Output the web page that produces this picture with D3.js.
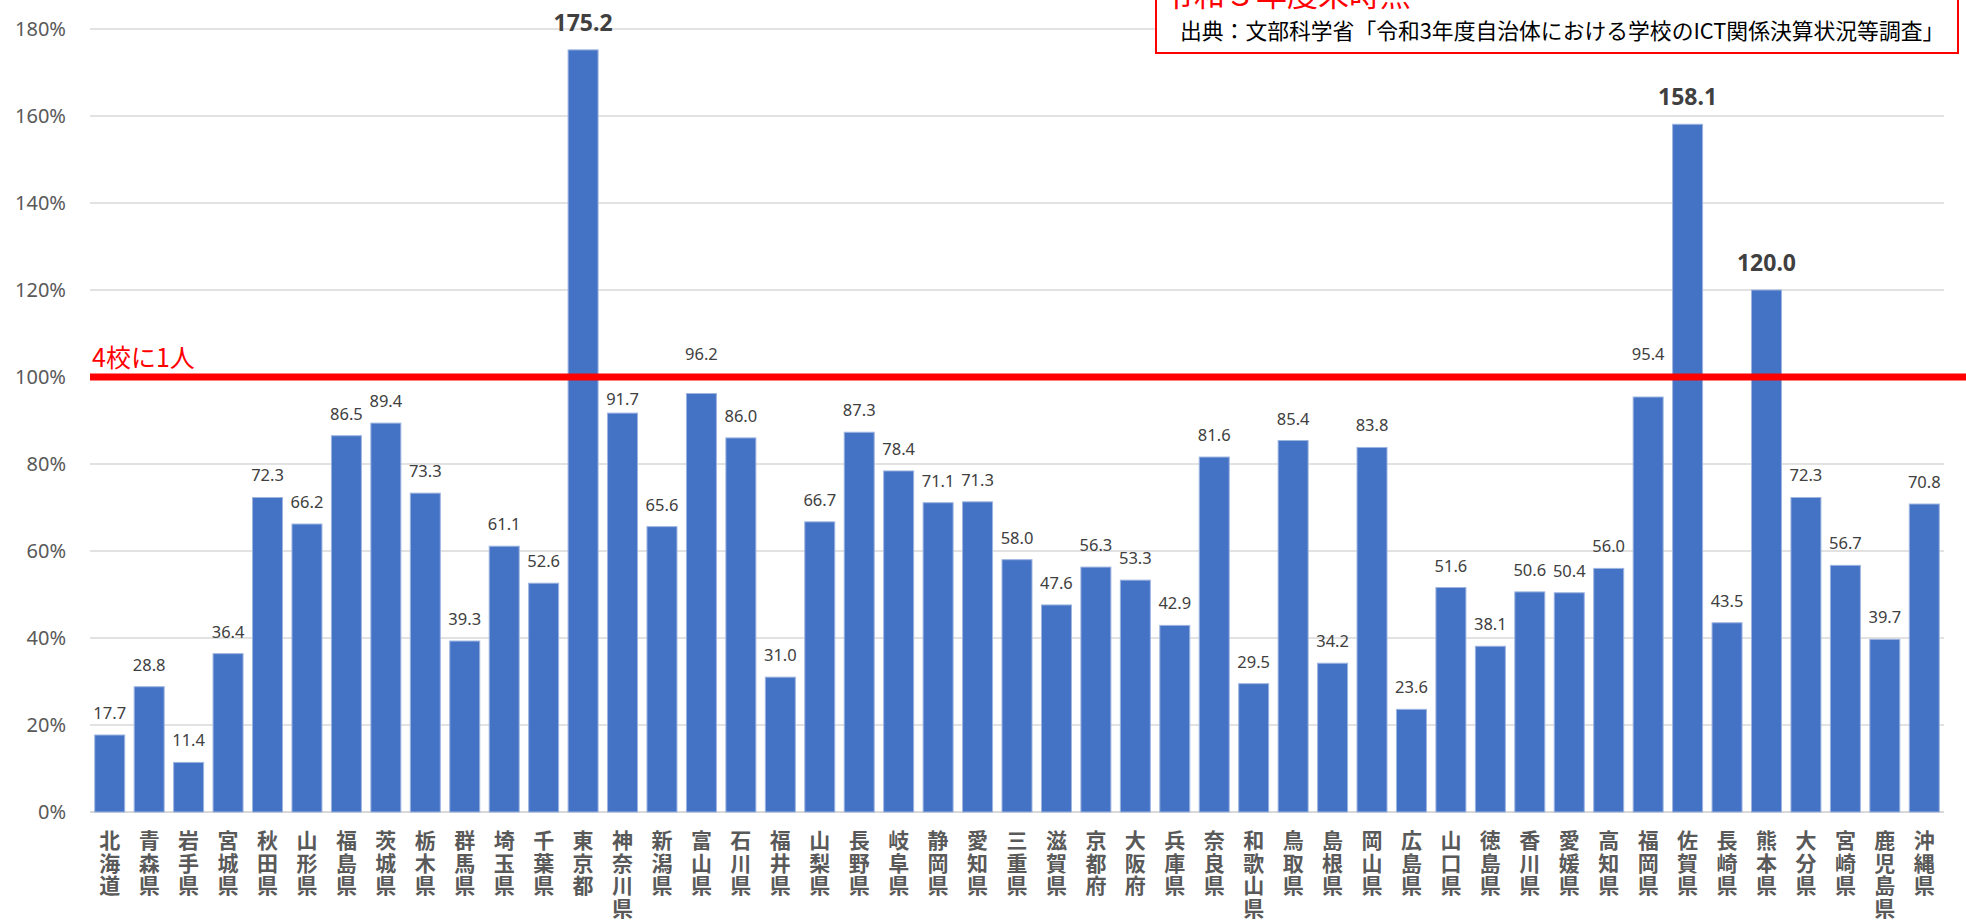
<!DOCTYPE html>
<html>
<head>
<meta charset="utf-8">
<script src="https://cdn.jsdelivr.net/npm/d3@7"></script>
<style>
  body { margin: 0; background: #fff; }
  svg { display: block; }
</style>
</head>
<body>
<div class="container"></div>
<script>
const prefectures = ["北海道","青森県","岩手県","宮城県","秋田県","山形県","福島県","茨城県","栃木県","群馬県",
  "埼玉県","千葉県","東京都","神奈川県","新潟県","富山県","石川県","福井県","山梨県","長野県",
  "岐阜県","静岡県","愛知県","三重県","滋賀県","京都府","大阪府","兵庫県","奈良県","和歌山県",
  "鳥取県","島根県","岡山県","広島県","山口県","徳島県","香川県","愛媛県","高知県","福岡県",
  "佐賀県","長崎県","熊本県","大分県","宮崎県","鹿児島県","沖縄県"];
const values = [17.7,28.8,11.4,36.4,72.3,66.2,86.5,89.4,73.3,39.3,
  61.1,52.6,175.2,91.7,65.6,96.2,86.0,31.0,66.7,87.3,
  78.4,71.1,71.3,58.0,47.6,56.3,53.3,42.9,81.6,29.5,
  85.4,34.2,83.8,23.6,51.6,38.1,50.6,50.4,56.0,95.4,
  158.1,43.5,120.0,72.3,56.7,39.7,70.8];
const yTicks = [0,20,40,60,80,100,120,140,160,180];
const targetValue = 100;
const targetLabel = "4校に1人";
const titleText = "令和３年度末時点";
const sourceText = "出典：文部科学省「令和3年度自治体における学校のICT関係決算状況等調査」";

const w = 1966;
const h = 922;
const plotLeft = 90;
const plotRight = 1944;
const plotTop = 29;
const plotBottom = 812;

const jp = "'Noto Sans CJK JP', sans-serif";
const num = "'Noto Sans', 'DejaVu Sans', sans-serif";

const svg = d3.select(".container")
  .append("svg")
  .attr("width", w)
  .attr("height", h);

const xScale = d3.scaleBand()
  .domain(prefectures)
  .range([plotLeft, plotRight])
  .paddingInner(0.24)
  .paddingOuter(0.12);

const yScale = d3.scaleLinear()
  .domain([0, 180])
  .range([plotBottom, plotTop]);

// gridlines
svg.append("g")
  .selectAll("line")
  .data(yTicks)
  .enter()
  .append("line")
  .attr("x1", plotLeft)
  .attr("x2", plotRight)
  .attr("y1", (d) => yScale(d))
  .attr("y2", (d) => yScale(d))
  .attr("stroke", "#d9d9d9")
  .attr("stroke-width", (d) => d === 0 ? 2 : 1.5);

// y axis
const yAxis = d3.axisLeft(yScale)
  .tickValues(yTicks)
  .tickSize(0)
  .tickPadding(0)
  .tickFormat((d) => d + "%");

const yG = svg.append("g")
  .attr("transform", "translate(66,0)")
  .call(yAxis);
yG.select(".domain").remove();
yG.selectAll("text")
  .attr("font-family", num)
  .attr("font-size", 20)
  .attr("fill", "#595959");

// bars
svg.append("g")
  .selectAll("rect")
  .data(values)
  .enter()
  .append("rect")
  .attr("x", (d, i) => xScale(prefectures[i]))
  .attr("y", (d) => yScale(d))
  .attr("width", xScale.bandwidth())
  .attr("height", (d) => yScale(0) - yScale(d))
  .attr("fill", "#4472c4")
  .attr("stroke", "#9db4e0")
  .attr("stroke-width", 1);

// 100% line
svg.append("line")
  .attr("x1", plotLeft)
  .attr("x2", w)
  .attr("y1", yScale(targetValue))
  .attr("y2", yScale(targetValue))
  .attr("stroke", "#ff0000")
  .attr("stroke-width", 7);

svg.append("text")
  .attr("x", 92)
  .attr("y", yScale(targetValue) - 10)
  .attr("font-family", jp)
  .attr("font-size", 25)
  .attr("fill", "#ff0000")
  .text(targetLabel);

// value labels
const labelY = function(d) {
  if (d > targetValue) return yScale(d) - 19;
  if (d >= 94) return yScale(targetValue) - 17;   // moved above the red line
  if (d >= 90) return yScale(d) - 8;
  return yScale(d) - 16;
};

svg.append("g")
  .selectAll("text")
  .data(values)
  .enter()
  .append("text")
  .attr("x", (d, i) => xScale(prefectures[i]) + xScale.bandwidth() / 2)
  .attr("y", labelY)
  .attr("text-anchor", "middle")
  .attr("font-family", num)
  .attr("font-size", (d) => d > targetValue ? 23 : 16.5)
  .attr("font-weight", (d) => d > targetValue ? "bold" : "normal")
  .attr("fill", "#404040")
  .text((d) => d.toFixed(1));

// x axis labels, one character per line
const xAxis = d3.axisBottom(xScale).tickSize(0).tickFormat("");
const xG = svg.append("g")
  .attr("transform", "translate(0," + plotBottom + ")")
  .call(xAxis);
xG.select(".domain").remove();
xG.selectAll(".tick")
  .append("text")
  .attr("text-anchor", "middle")
  .attr("font-family", jp)
  .attr("font-size", 21)
  .attr("font-weight", "bold")
  .attr("fill", "#595959")
  .each(function(d) {
    const t = d3.select(this);
    Array.from(d).forEach((ch, k) => {
      t.append("tspan")
        .attr("x", 0)
        .attr("y", 36 + k * 22.7)
        .text(ch);
    });
  });

// source box
svg.append("rect")
  .attr("x", 1156)
  .attr("y", -20)
  .attr("width", 802)
  .attr("height", 73)
  .attr("fill", "#fff")
  .attr("stroke", "#ff0000")
  .attr("stroke-width", 2);

svg.append("text")
  .attr("x", 1163)
  .attr("y", 6)
  .attr("font-family", jp)
  .attr("font-size", 31)
  .attr("fill", "#ff0000")
  .text(titleText);

svg.append("text")
  .attr("x", 1180)
  .attr("y", 39)
  .attr("font-family", jp)
  .attr("font-size", 21.8)
  .attr("fill", "#000")
  .text(sourceText);
</script>
</body>
</html>
